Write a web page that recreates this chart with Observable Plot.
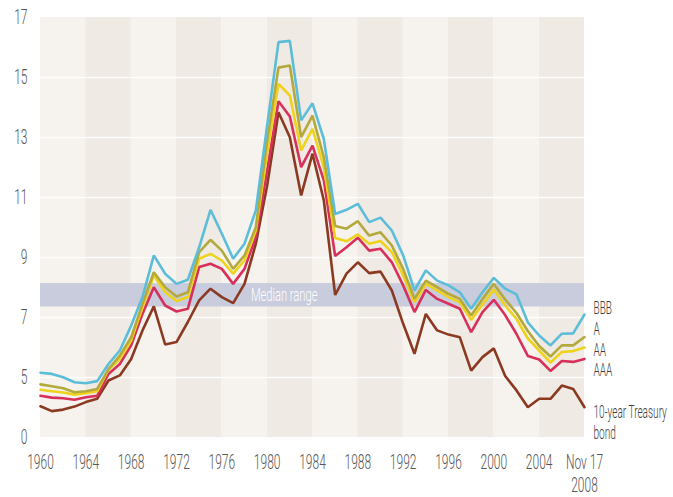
<!DOCTYPE html>
<html>
<head>
<meta charset="utf-8">
<script src="https://cdn.jsdelivr.net/npm/d3@7"></script>
<script src="https://cdn.jsdelivr.net/npm/@observablehq/plot@0.6"></script>
<style>
  html, body { margin: 0; padding: 0; background: #ffffff; }
</style>
</head>
<body>
<div id="chart"></div>
<script>
// ---- data ----
const years = [1960,1961,1962,1963,1964,1965,1966,1967,1968,1969,
               1970,1971,1972,1973,1974,1975,1976,1977,1978,1979,
               1980,1981,1982,1983,1984,1985,1986,1987,1988,1989,
               1990,1991,1992,1993,1994,1995,1996,1997,1998,1999,
               2000,2001,2002,2003,2004,2005,2006,2007,2008];

const bbb = [5.16,5.12,5.01,4.84,4.81,4.88,5.45,5.90,6.73,7.68,
             9.07,8.46,8.12,8.26,9.34,10.59,9.79,8.96,9.46,10.57,
             13.40,16.18,16.22,13.57,14.14,12.95,10.45,10.59,10.79,10.18,
             10.33,9.90,9.07,7.90,8.57,8.23,8.07,7.84,7.29,7.84,
             8.32,7.96,7.77,6.84,6.40,6.07,6.46,6.47,7.10];

const ratingA = [4.77,4.71,4.64,4.51,4.54,4.62,5.28,5.73,6.34,7.46,
             8.51,8.01,7.70,7.84,9.18,9.59,9.23,8.62,9.07,10.01,
             12.90,15.33,15.40,13.01,13.73,12.34,10.05,9.96,10.21,9.73,
             9.84,9.40,8.62,7.62,8.23,8.01,7.79,7.62,7.07,7.62,
             8.12,7.60,7.15,6.55,6.05,5.70,6.07,6.07,6.35];

const ratingAA = [4.59,4.54,4.50,4.43,4.48,4.54,5.26,5.62,6.23,7.34,
             8.40,7.84,7.55,7.68,8.96,9.12,8.90,8.46,8.90,9.90,
             12.50,14.79,14.40,12.57,13.29,12.00,9.65,9.54,9.77,9.46,
             9.55,9.18,8.40,7.51,8.12,7.90,7.68,7.51,6.92,7.43,
             7.93,7.40,6.95,6.30,5.90,5.50,5.85,5.88,6.00];

const ratingAAA = [4.39,4.33,4.31,4.26,4.34,4.39,5.12,5.45,6.07,7.12,
             8.01,7.40,7.20,7.29,8.68,8.79,8.62,8.12,8.62,9.68,
             11.90,14.21,13.70,12.01,12.73,11.57,9.05,9.34,9.66,9.23,
             9.29,8.84,8.07,7.18,7.92,7.62,7.46,7.29,6.51,7.18,
             7.59,7.08,6.45,5.72,5.60,5.22,5.55,5.52,5.62];

const treasury = [4.04,3.88,3.93,4.03,4.18,4.29,4.90,5.07,5.62,6.57,
             7.37,6.10,6.18,6.85,7.57,7.96,7.68,7.48,8.12,9.46,
             11.40,13.84,13.01,11.07,12.46,10.90,7.75,8.46,8.84,8.48,
             8.53,7.90,6.79,5.79,7.12,6.57,6.43,6.34,5.23,5.68,
             5.97,5.05,4.57,4.01,4.29,4.29,4.73,4.62,4.01];

const seriesNames  = ["BBB", "A", "AA", "AAA", "10-year Treasury\nbond"];
const seriesValues = [bbb, ratingA, ratingAA, ratingAAA, treasury];
const seriesColors = ["#5cbdd8", "#b4a93c", "#eed21c", "#d7305a", "#8b3a21"];

const xTicks      = [1960,1964,1968,1972,1976,1980,1984,1988,1992,1996,2000,2004,2008];
const xTickLabels = ["1960","1964","1968","1972","1976","1980","1984","1988","1992","1996","2000","2004","Nov 17\n2008"];
const yTicks      = [3,5,7,9,11,13,15,17];
const yTickLabels = ["0","5","7","9","11","13","15","17"];

const medianRange = [7.35, 8.13];
const medianLabel = "Median range";
const medianLabelYear = 1981.5;

// ---- derived tables ----
const xDomain = [years[0], years[years.length - 1]];
const yDomain = [yTicks[0], yTicks[yTicks.length - 1]];

const rows = [];
for (let s = seriesNames.length - 1; s >= 0; s--) {
  seriesValues[s].forEach((v, i) => rows.push({year: years[i], value: v, series: seriesNames[s]}));
}

const bands = [];
for (let i = 0; i < xTicks.length - 1; i++) bands.push({x1: xTicks[i], x2: xTicks[i + 1], odd: i % 2 === 1});

// end-of-line labels: the four ratings stacked around their mean end value, treasury below its end
const lastIdx = years.length - 1;
const ratingEnds = seriesValues.slice(0, 4).map(a => a[lastIdx]);
const ratingMean = d3.mean(ratingEnds);
const labelStep = 0.69;
const ratingLabels = seriesNames.slice(0, 4).map((n, i) => ({name: n, y: ratingMean + (1.5 - i) * labelStep}));
const treasuryLabel = [{name: seriesNames[4], y: treasury[lastIdx]}];

const FONT = "Roboto, 'Liberation Sans', sans-serif";

const chart = Plot.plot({
  width: 673,
  height: 497,
  marginLeft: 40,
  marginRight: 89,
  marginTop: 17,
  marginBottom: 60,
  x: {domain: xDomain},
  y: {domain: yDomain},
  color: {domain: seriesNames, range: seriesColors},
  style: {fontFamily: FONT, fontWeight: 300, background: "#ffffff", overflow: "visible"},
  marks: [
    Plot.rect(bands.filter(b => !b.odd), {x1: "x1", x2: "x2", y1: yDomain[0], y2: yDomain[1], fill: "#f6f3ee"}),
    Plot.rect(bands.filter(b => b.odd),  {x1: "x1", x2: "x2", y1: yDomain[0], y2: yDomain[1], fill: "#efebe4"}),
    Plot.ruleY(yTicks.slice(1, -1), {x1: xDomain[0], x2: xDomain[1], stroke: "#ffffff", strokeWidth: 1.5, strokeOpacity: 0.85}),
    Plot.rect([medianRange], {x1: xDomain[0], x2: xDomain[1], y1: d => d[0], y2: d => d[1], fill: "#c8ccdc"}),
    Plot.text([medianLabel], {x: medianLabelYear, y: d3.mean(medianRange), text: d => d, fill: "#ffffff", fontSize: 18}),
    Plot.line(rows, {x: "year", y: "value", z: "series", stroke: "series", strokeWidth: 2.6, strokeLinejoin: "miter", curve: "linear"}),
    Plot.text(ratingLabels, {x: xDomain[1], y: "y", text: "name", textAnchor: "start", dx: 9, fill: "#3d3d3d", fontSize: 18}),
    Plot.text(treasuryLabel, {x: xDomain[1], y: "y", text: "name", textAnchor: "start", lineAnchor: "top", dx: 9, dy: -3, lineHeight: 1.15, fill: "#3d3d3d", fontSize: 17.5}),
    Plot.axisX(xTicks, {tickFormat: d => xTickLabels[xTicks.indexOf(d)], tickSize: 0, tickPadding: 16, fontSize: 20, lineHeight: 1.12, fill: "#555555", label: null}),
    Plot.axisY(yTicks, {tickFormat: d => yTickLabels[yTicks.indexOf(d)], tickSize: 0, tickPadding: 13, fontSize: 21, fill: "#555555", label: null})
  ]
});

// condensed look of the original lettering (applied to each text group in mark order)
function squeezeTexts(groups, s) {
  groups.forEach(g => g.querySelectorAll("text").forEach(t => {
    t.setAttribute("transform", (t.getAttribute("transform") || "") + ` scale(${s},1)`);
  }));
}
squeezeTexts(chart.querySelectorAll('g[aria-label="y-axis tick label"]'), 0.57);
squeezeTexts(chart.querySelectorAll('g[aria-label="x-axis tick label"]'), 0.6);
const textGroups = chart.querySelectorAll('g[aria-label="text"]');
squeezeTexts([textGroups[0]], 0.62);               // median label
squeezeTexts([textGroups[1]], 0.56);               // rating labels
squeezeTexts([textGroups[2]], 0.575);              // treasury label

document.getElementById("chart").append(chart);
</script>
</body>
</html>
